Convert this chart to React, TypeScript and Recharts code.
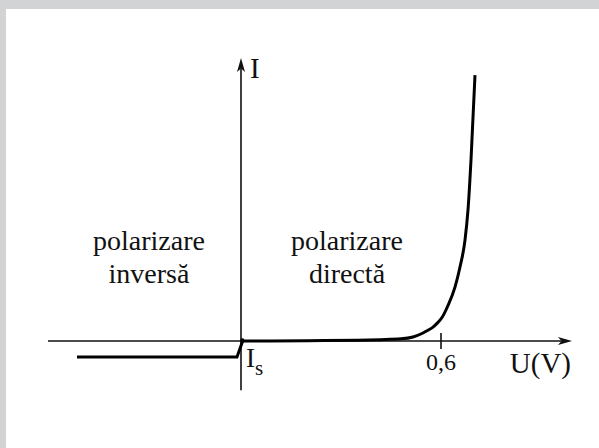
import { LineChart, Line, XAxis, YAxis, ReferenceLine, ReferenceDot } from "recharts";

// caracteristica diodei: U in volti, I in mA (unitati aproximative)
const tensiuneDirecta = [0.005, 0.2, 0.35, 0.417, 0.48, 0.516, 0.546, 0.561, 0.576, 0.588, 0.603, 0.621, 0.642, 0.657, 0.672, 0.681, 0.69, 0.702];
const curentDirect = [0, 0.01, 0.03, 0.05, 0.08, 0.15, 0.3, 0.4, 0.52, 0.66, 0.88, 1.33, 2.02, 2.77, 3.78, 4.91, 6.78, 9.96];
const tensiuneInversa = [-0.492, -0.012, 0.005];
const curentInvers = [-0.6, -0.6, 0];

const textStanga = ["polarizare", "inversă"];
const textDreapta = ["polarizare", "directă"];
const etichetaTick = "0,6";

const directa = tensiuneDirecta.map((u, k) => ({ u, i: curentDirect[k] }));
const inversa = tensiuneInversa.map((u, k) => ({ u, i: curentInvers[k] }));

const FONT = "'Liberation Serif', 'Times New Roman', serif";
const INK = "#111";

// linie cu varf de sageata la capatul (x2, y2)
function Sageata(props: any) {
  const { x1, y1, x2, y2 } = props;
  const a = Math.atan2(y2 - y1, x2 - x1);
  const len = 14;
  const half = 4;
  const bx = x2 - len * Math.cos(a);
  const by = y2 - len * Math.sin(a);
  const nx = -Math.sin(a) * half;
  const ny = Math.cos(a) * half;
  const notchX = x2 - len * 0.75 * Math.cos(a);
  const notchY = y2 - len * 0.75 * Math.sin(a);
  return (
    <g>
      <line x1={x1} y1={y1} x2={notchX} y2={notchY} stroke={INK} strokeWidth={1.6} />
      <polygon
        points={`${x2},${y2} ${bx + nx},${by + ny} ${notchX},${notchY} ${bx - nx},${by - ny}`}
        fill={INK}
      />
    </g>
  );
}

function Text(props: any) {
  const { cx, cy, text, size, anchor } = props;
  return (
    <text x={cx} y={cy} fontSize={size} fontFamily={FONT} fill={INK} textAnchor={anchor}>
      {text}
    </text>
  );
}

export default function App() {
  return (
    <div style={{ position: "fixed", left: 0, top: 0, width: 599, height: 448, background: "#d1d3d4" }}>
      <div style={{ position: "absolute", left: 6, top: 9, right: 0, bottom: 0, background: "#fff" }} />
      <div style={{ position: "absolute", left: 0, top: 0 }}>
        <LineChart width={599} height={448} margin={{ top: 47.3, right: 24.67, bottom: 53.6, left: 41 }}>
          <XAxis type="number" dataKey="u" domain={[-0.6, 1.0]} hide allowDataOverflow />
          <YAxis type="number" domain={[-2, 11]} hide allowDataOverflow />

          <ReferenceLine segment={[{ x: -0.579, y: 0 }, { x: 0.993, y: 0 }]} shape={<Sageata />} />
          <ReferenceLine segment={[{ x: 0, y: -1.84 }, { x: 0, y: 10.6 }]} shape={<Sageata />} />
          <ReferenceLine
            segment={[{ x: 0.6, y: -0.3 }, { x: 0.6, y: 0.3 }]}
            stroke={INK}
            strokeWidth={1.6}
          />

          <Line
            data={inversa}
            dataKey="i"
            type="linear"
            stroke="#000"
            strokeWidth={3}
            dot={false}
            isAnimationActive={false}
          />
          <Line
            data={directa}
            dataKey="i"
            type="monotone"
            stroke="#000"
            strokeWidth={3}
            dot={false}
            isAnimationActive={false}
          />
          <ReferenceDot x={0.004} y={0.02} r={2.2} fill="#000" stroke="none" />

          <ReferenceDot x={-0.276} y={3.41} shape={<Text text={textStanga[0]} size={28} anchor="middle" />} />
          <ReferenceDot x={-0.276} y={2.17} shape={<Text text={textStanga[1]} size={28} anchor="middle" />} />
          <ReferenceDot x={0.318} y={3.41} shape={<Text text={textDreapta[0]} size={28} anchor="middle" />} />
          <ReferenceDot x={0.318} y={2.17} shape={<Text text={textDreapta[1]} size={28} anchor="middle" />} />

          <ReferenceDot x={0.6} y={-1.09} shape={<Text text={etichetaTick} size={24} anchor="middle" />} />
          <ReferenceDot x={0.99} y={-1.2} shape={<Text text="U(V)" size={29} anchor="end" />} />
          <ReferenceDot x={0.027} y={9.85} shape={<Text text="I" size={29} anchor="start" />} />
          <ReferenceDot
            x={0.015}
            y={-0.97}
            shape={(p: any) => (
              <text x={p.cx} y={p.cy} fontSize={27} fontFamily={FONT} fill={INK}>
                I
                <tspan fontSize={21} dy={8}>s</tspan>
              </text>
            )}
          />
        </LineChart>
      </div>
    </div>
  );
}
